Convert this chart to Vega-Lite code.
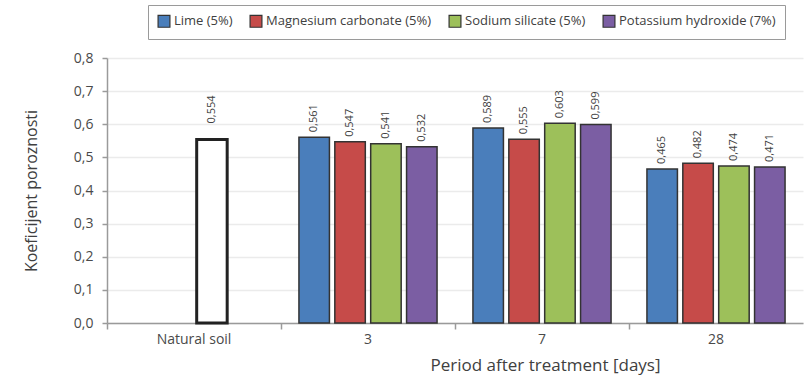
{
  "$schema": "https://vega.github.io/schema/vega-lite/v6.json",
  "width": 696,
  "height": 265,
  "autosize": {"type": "none"},
  "padding": {"left": 107, "top": 58, "right": 1, "bottom": 55},
  "config": {
    "locale": {"number": {"decimal": ",", "thousands": ".", "grouping": [3], "currency": ["", " €"]}},
    "font": "Open Sans",
    "view": {"stroke": null},
    "axis": {"labelColor": "#4a4a4a", "titleColor": "#404040", "labelFontSize": 14, "titleFontSize": 16, "titleFontWeight": "normal", "domainColor": "#9a9a9a", "tickColor": "#9a9a9a", "domainWidth": 1.5, "tickWidth": 1.5}
  },
  "data": {
    "values": [
      {"period": "Natural soil", "treatment": "Natural soil", "value": 0.554},
      {"period": "3", "treatment": "Lime (5%)", "value": 0.561},
      {"period": "3", "treatment": "Magnesium carbonate (5%)", "value": 0.547},
      {"period": "3", "treatment": "Sodium silicate (5%)", "value": 0.541},
      {"period": "3", "treatment": "Potassium hydroxide (7%)", "value": 0.532},
      {"period": "7", "treatment": "Lime (5%)", "value": 0.589},
      {"period": "7", "treatment": "Magnesium carbonate (5%)", "value": 0.555},
      {"period": "7", "treatment": "Sodium silicate (5%)", "value": 0.603},
      {"period": "7", "treatment": "Potassium hydroxide (7%)", "value": 0.599},
      {"period": "28", "treatment": "Lime (5%)", "value": 0.465},
      {"period": "28", "treatment": "Magnesium carbonate (5%)", "value": 0.482},
      {"period": "28", "treatment": "Sodium silicate (5%)", "value": 0.474},
      {"period": "28", "treatment": "Potassium hydroxide (7%)", "value": 0.471}
    ]
  },
  "encoding": {
    "x": {
      "field": "period", "type": "nominal", "sort": ["Natural soil", "3", "7", "28"],
      "scale": {"paddingInner": 0, "paddingOuter": 0},
      "axis": {"title": "Period after treatment [days]", "labelAngle": 0, "bandPosition": 0, "tickSize": 6, "labelPadding": 3, "titleFontSize": 17, "titleX": 438, "titleY": 34, "titleAlign": "center", "titleBaseline": "top"}
    },
    "y": {
      "field": "value", "type": "quantitative",
      "scale": {"domain": [0, 0.8], "nice": false},
      "axis": {"title": "Koeficijent poroznosti", "values": [0, 0.1, 0.2, 0.3, 0.4, 0.5, 0.6, 0.7, 0.8], "format": ".1f", "tickSize": 5, "labelPadding": 9, "titlePadding": 34, "gridColor": "#ebebeb", "gridWidth": 1.5}
    },
    "xOffset": {
      "field": "treatment", "type": "nominal",
      "scale": {"domain": ["Lime (5%)", "Magnesium carbonate (5%)", "Sodium silicate (5%)", "Potassium hydroxide (7%)"], "paddingInner": 0.15, "paddingOuter": 0.5}
    }
  },
  "layer": [
    {
      "transform": [{"filter": "datum.treatment !== 'Natural soil'"}],
      "mark": {"type": "bar", "stroke": "#333333", "strokeWidth": 1.5},
      "encoding": {
        "color": {
          "field": "treatment", "type": "nominal",
          "scale": {"domain": ["Lime (5%)", "Magnesium carbonate (5%)", "Sodium silicate (5%)", "Potassium hydroxide (7%)"], "range": ["#4a7ebb", "#c64b49", "#9dc05a", "#7b5ea3"]},
          "legend": {"title": null, "orient": "none", "legendX": 41, "legendY": -53, "direction": "horizontal", "strokeColor": "#9a9a9a", "fillColor": "white", "padding": 9, "symbolType": "square", "symbolSize": 140, "symbolStrokeColor": "#333333", "symbolStrokeWidth": 1.2, "labelFontSize": 13, "labelColor": "#404040", "labelOffset": 3, "columnPadding": 14, "labelLimit": 300}
        }
      }
    },
    {
      "transform": [{"filter": "datum.treatment !== 'Natural soil'"}],
      "mark": {"type": "text", "angle": 270, "align": "left", "baseline": "middle", "dx": 5, "fontSize": 11, "color": "#404040"},
      "encoding": {"text": {"field": "value", "type": "quantitative", "format": ".3f"}}
    },
    {
      "transform": [{"filter": "datum.treatment === 'Natural soil'"}],
      "mark": {"type": "bar", "fill": "white", "stroke": "#222222", "strokeWidth": 3},
      "encoding": {"xOffset": {"datum": "Sodium silicate (5%)"}}
    },
    {
      "transform": [{"filter": "datum.treatment === 'Natural soil'"}],
      "mark": {"type": "text", "angle": 270, "align": "left", "baseline": "middle", "dx": 16, "fontSize": 11, "color": "#404040"},
      "encoding": {"xOffset": {"datum": "Sodium silicate (5%)"}, "text": {"field": "value", "type": "quantitative", "format": ".3f"}}
    }
  ]
}
